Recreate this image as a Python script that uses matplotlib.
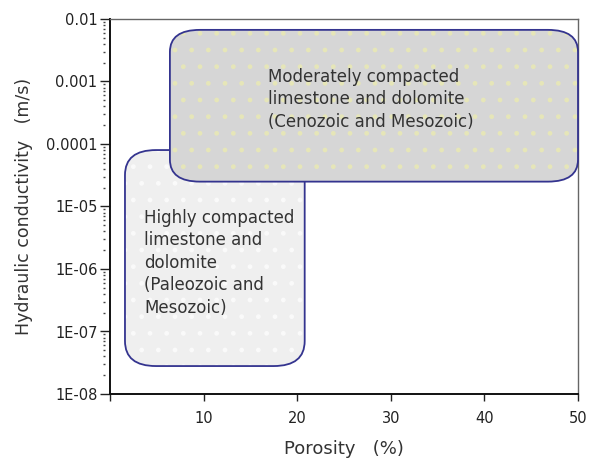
import numpy as np
import matplotlib
matplotlib.use("Agg")
import matplotlib.pyplot as plt
from matplotlib.patches import FancyBboxPatch
from matplotlib.ticker import LogLocator, FixedLocator, NullFormatter

# Porosity (%) and hydraulic conductivity (m/s) ranges of the two rock groups
group_labels = [
    "Highly compacted\nlimestone and\ndolomite\n(Paleozoic and\nMesozoic)",
    "Moderately compacted\nlimestone and dolomite\n(Cenozoic and Mesozoic)",
]
porosity_min = [1.6, 6.4]
porosity_max = [20.8, 50.0]
conductivity_min = [2.8e-8, 2.5e-5]
conductivity_max = [8.0e-5, 6.7e-3]

x_ticks = [0, 10, 20, 30, 40, 50]
x_tick_labels = ["", "10", "20", "30", "40", "50"]
y_ticks = [1e-8, 1e-7, 1e-6, 1e-5, 1e-4, 1e-3, 1e-2]
y_tick_labels = ["1E-08", "1E-07", "1E-06", "1E-05", "0.0001", "0.001", "0.01"]

fig = plt.figure(figsize=(5.93, 4.61), dpi=100)
ax = fig.add_axes([110 / 593, 67 / 461, 468 / 593, 375 / 461])
ax.set_xlim(0, 50)
ax.set_yscale("log")
ax.set_ylim(1e-8, 1e-2)

ax.xaxis.set_major_locator(FixedLocator(x_ticks))
ax.set_xticklabels(x_tick_labels)
ax.yaxis.set_major_locator(FixedLocator(y_ticks))
ax.set_yticklabels(y_tick_labels)
ax.yaxis.set_minor_locator(LogLocator(base=10, subs=np.arange(2, 10)))
ax.yaxis.set_minor_formatter(NullFormatter())
ax.tick_params(axis="y", which="minor", length=0)
ax.tick_params(axis="y", which="major", length=7, width=1, direction="out",
               labelsize=10.5, colors="#222222", pad=2)
ax.tick_params(axis="x", which="major", length=5, width=1, direction="out",
               labelsize=10.5, colors="#222222", pad=7)

for side in ("left", "bottom"):
    ax.spines[side].set_color("#111111")
    ax.spines[side].set_linewidth(1.4)
for side in ("top", "right"):
    ax.spines[side].set_color("#666666")
    ax.spines[side].set_linewidth(1.0)

# Detached dotted minor ticks just left of the conductivity axis
sec = ax.secondary_yaxis(-0.011)
sec.spines["left"].set_visible(False)
sec.yaxis.set_major_locator(FixedLocator(y_ticks))
sec.yaxis.set_minor_locator(LogLocator(base=10, subs=np.arange(2, 10)))
sec.yaxis.set_major_formatter(NullFormatter())
sec.yaxis.set_minor_formatter(NullFormatter())
sec.tick_params(which="major", length=0)
sec.tick_params(which="minor", length=1.2, width=1.0, color="#444444", direction="out")

ax.set_xlabel("Porosity   (%)", fontsize=13, color="#333333", labelpad=10)
ax.set_ylabel("Hydraulic conductivity   (m/s)", fontsize=12.5, color="#333333", labelpad=9)

# Convert the data ranges to axes fractions so the rounded corners stay round
to_axes = ax.transData + ax.transAxes.inverted()

face_colors = ["#efefef", "#d6d6d6"]
dot_colors = ["#fafafa", "#e6e6b8"]
radius_px = [(31, 25), (30, 22)]
text_pos = [(144, 218), (268, 77)]
ax_w, ax_h = 468.0, 375.0
plt.rcParams["hatch.linewidth"] = 1.0

for i in range(len(group_labels)):
    (x0, y0), (x1, y1) = to_axes.transform(
        [(porosity_min[i], conductivity_min[i]), (porosity_max[i], conductivity_max[i])])
    rx = radius_px[i][0] / ax_w
    ry = radius_px[i][1] / ax_h
    style = f"round,pad=0,rounding_size={rx}"
    base = FancyBboxPatch((x0, y0), x1 - x0, y1 - y0, boxstyle=style,
                          mutation_aspect=ry / rx, transform=ax.transAxes,
                          facecolor=face_colors[i], edgecolor="none",
                          zorder=2 + 2 * i, clip_on=False)
    ax.add_patch(base)
    dots = FancyBboxPatch((x0, y0), x1 - x0, y1 - y0, boxstyle=style,
                          mutation_aspect=ry / rx, transform=ax.transAxes,
                          facecolor="none", edgecolor=dot_colors[i], hatch=".",
                          linewidth=0, zorder=2.2 + 2 * i, clip_on=False)
    ax.add_patch(dots)
    outline = FancyBboxPatch((x0, y0), x1 - x0, y1 - y0, boxstyle=style,
                             mutation_aspect=ry / rx, transform=ax.transAxes,
                             facecolor="none", edgecolor="#34348f", linewidth=1.3,
                             zorder=2.4 + 2 * i, clip_on=False)
    ax.add_patch(outline)
    tx, ty = text_pos[i]
    fig.text(tx / 593, 1 - (ty - 9) / 461, group_labels[i], fontsize=12,
             color="#333333", ha="left", va="top", linespacing=1.32,
             zorder=10)

fig.savefig("out.png", dpi=100)
